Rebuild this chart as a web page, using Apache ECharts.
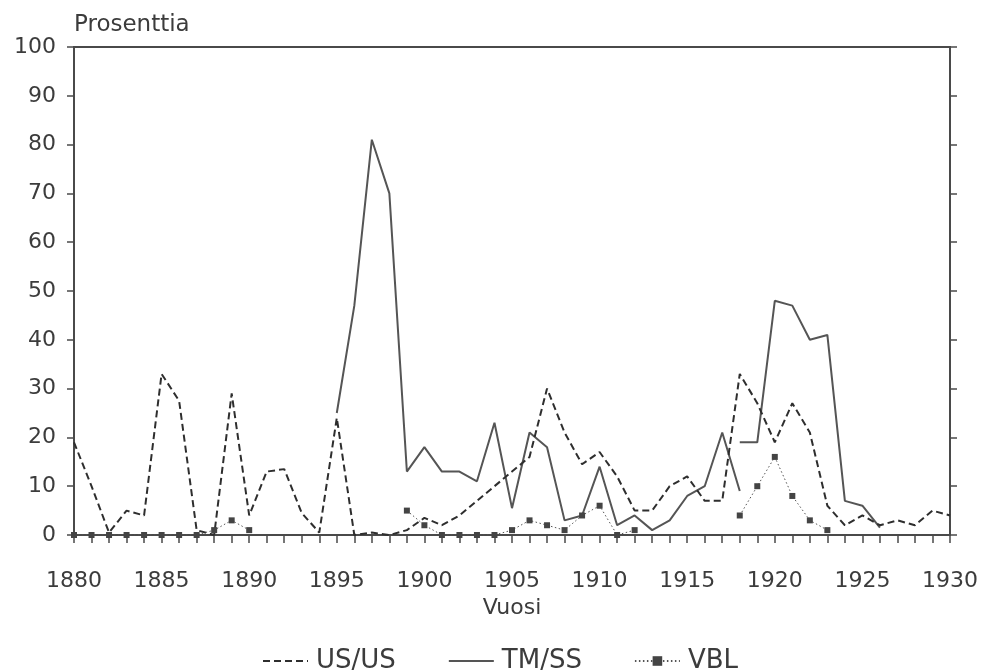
<!DOCTYPE html>
<html>
<head>
<meta charset="utf-8">
<title>Prosenttia 1880–1930</title>
<script src="https://cdn.jsdelivr.net/npm/echarts@6/dist/echarts.min.js"></script>
<style>
  html, body { margin: 0; padding: 0; background: #ffffff; }
  #chart { width: 981px; height: 670px; }
</style>
</head>
<body>
<div id="chart"></div>
<script>
// Vuodet
const years = [
  1880, 1881, 1882, 1883, 1884, 1885, 1886, 1887, 1888, 1889,
  1890, 1891, 1892, 1893, 1894, 1895, 1896, 1897, 1898, 1899,
  1900, 1901, 1902, 1903, 1904, 1905, 1906, 1907, 1908, 1909,
  1910, 1911, 1912, 1913, 1914, 1915, 1916, 1917, 1918, 1919,
  1920, 1921, 1922, 1923, 1924, 1925, 1926, 1927, 1928, 1929,
  1930
];

// US/US, prosenttia
const usUs = [
  19, 10, 0.5, 5, 4, 33, 27.5, 1, 0, 29,
  4, 13, 13.5, 4.5, 0.5, 24, 0, 0.5, 0, 1,
  3.5, 2, 4, 7, 10, 13, 16, 30, 21, 14.5,
  17, 12, 5, 5, 10, 12, 7, 7, 33, 27,
  19, 27, 21, 6, 2, 4, 2, 3, 2, 5,
  4
];

// TM/SS, ensimmäinen jakso (1895–1918)
const tmSsEarly = [
  null, null, null, null, null, null, null, null, null, null,
  null, null, null, null, null, 25, 47, 81, 70, 13,
  18, 13, 13, 11, 23, 5.5, 21, 18, 3, 4,
  14, 2, 4, 1, 3, 8, 10, 21, 9, null,
  null, null, null, null, null, null, null, null, null, null,
  null
];

// TM/SS, toinen jakso (1918–1926)
const tmSsLate = [
  null, null, null, null, null, null, null, null, null, null,
  null, null, null, null, null, null, null, null, null, null,
  null, null, null, null, null, null, null, null, null, null,
  null, null, null, null, null, null, null, null, 19, 19,
  48, 47, 40, 41, 7, 6, 1.5, null, null, null,
  null
];

// VBL, prosenttia
const vbl = [
  0, 0, 0, 0, 0, 0, 0, 0, 1, 3,
  1, null, null, null, null, null, null, null, null, 5,
  2, 0, 0, 0, 0, 1, 3, 2, 1, 4,
  6, 0, 1, null, null, null, null, null, 4, 10,
  16, 8, 3, 1, null, null, null, null, null, null,
  null
];

const ink = '#3c3c3c';
const axisInk = '#4a4a4a';
const font = 'DejaVu Sans';

function pairs(values) {
  return years.map((y, i) => [y, values[i] === null ? '-' : values[i]]);
}

const chart = echarts.init(document.getElementById('chart'), null, { renderer: 'canvas' });

const yAxisCommon = {
  type: 'value',
  min: 0,
  max: 100,
  interval: 10,
  splitLine: { show: false },
  axisLine: { show: true, lineStyle: { color: axisInk, width: 2 } },
  axisTick: { show: true, length: 7, lineStyle: { color: axisInk, width: 1.5 } }
};

chart.setOption({
  animation: false,
  backgroundColor: '#ffffff',
  textStyle: { fontFamily: font, color: ink },
  grid: {
    left: 74, right: 31, top: 47, bottom: 135,
    show: true, borderColor: axisInk, borderWidth: 2, backgroundColor: 'transparent'
  },
  legend: {
    left: 257,
    top: 643,
    itemWidth: 45,
    itemHeight: 12,
    itemGap: 52,
    textStyle: { fontFamily: font, fontSize: 26, color: ink, padding: [0, 0, 0, 3] },
    data: [
      { name: 'US/US', itemStyle: { opacity: 0 } },
      { name: 'TM/SS', itemStyle: { opacity: 0 } },
      { name: 'VBL' }
    ]
  },
  xAxis: {
    type: 'value',
    min: 1880,
    max: 1930,
    interval: 5,
    name: 'Vuosi',
    nameLocation: 'middle',
    nameGap: 53,
    nameTextStyle: { fontFamily: font, fontSize: 22, color: ink },
    splitLine: { show: false },
    axisLine: { show: true, onZero: false, lineStyle: { color: axisInk, width: 2 } },
    axisTick: { show: true, length: 8, lineStyle: { color: axisInk, width: 1.5 } },
    minorTick: { show: true, splitNumber: 5, length: 8, lineStyle: { color: axisInk, width: 1.5 } },
    minorSplitLine: { show: false },
    axisLabel: {
      fontFamily: font, fontSize: 22, color: ink, margin: 35,
      formatter: v => String(v)
    }
  },
  yAxis: [
    Object.assign({}, yAxisCommon, {
      position: 'left',
      name: 'Prosenttia',
      nameLocation: 'end',
      nameGap: 10,
      nameTextStyle: { fontFamily: font, fontSize: 23, color: ink, align: 'left' },
      axisLabel: { fontFamily: font, fontSize: 22, color: ink, margin: 18 }
    }),
    Object.assign({}, yAxisCommon, {
      position: 'right',
      axisLabel: { show: false }
    })
  ],
  series: [
    {
      name: 'US/US',
      type: 'line',
      data: pairs(usUs),
      symbol: 'none',
      lineStyle: { color: '#2e2e2e', width: 2, type: [7, 4] },
      itemStyle: { color: '#2e2e2e' },
      z: 3
    },
    {
      name: 'TM/SS',
      type: 'line',
      data: pairs(tmSsEarly),
      symbol: 'none',
      lineStyle: { color: '#555555', width: 2, type: 'solid' },
      itemStyle: { color: '#555555' },
      z: 2
    },
    {
      name: 'TM/SS',
      type: 'line',
      data: pairs(tmSsLate),
      symbol: 'none',
      lineStyle: { color: '#555555', width: 2, type: 'solid' },
      itemStyle: { color: '#555555' },
      z: 2
    },
    {
      name: 'VBL',
      type: 'line',
      data: pairs(vbl),
      symbol: 'rect',
      symbolSize: 6,
      lineStyle: { color: '#555555', width: 1, type: [1.5, 2.5] },
      itemStyle: { color: '#444444' },
      z: 4
    }
  ]
});
</script>
</body>
</html>
